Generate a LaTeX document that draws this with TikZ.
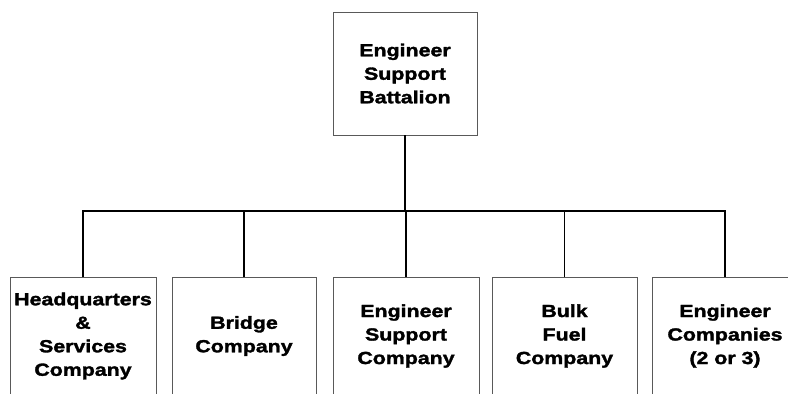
\documentclass[tikz,border=0pt]{standalone}
\usepackage{fontspec}
\setmainfont[FakeStretch=1.22, BoldFeatures={FakeBold=1.8}]{Liberation Sans}
\begin{document}
\begin{tikzpicture}[x=1pt,y=-1pt,
  unit/.style={draw=black!65, line width=0.9pt, align=center, inner sep=0pt,
    font={\fontsize{17.5}{23.5}\selectfont\bfseries}},
  link/.style={line width=2.4pt, black},
  thinlink/.style={line width=1.2pt, black}]
\useasboundingbox[fill=white] (0,0) rectangle (788,394);
\node[unit, minimum width=144pt, minimum height=123pt] (top) at (405,73.5) {Engineer\\Support\\Battalion};
\node[unit, minimum width=146pt, minimum height=118pt] (b1) at (83,336) {Headquarters\\\&\\Services\\Company};
\node[unit, minimum width=144pt, minimum height=118pt] (b2) at (244,336) {Bridge\\Company};
\node[unit, minimum width=146pt, minimum height=118pt] (b3) at (406,336) {Engineer\\Support\\Company};
\node[unit, minimum width=145pt, minimum height=118pt] (b4) at (564.5,336) {Bulk\\Fuel\\Company};
\node[unit, minimum width=146pt, minimum height=118pt] (b5) at (725,336) {Engineer\\Companies\\(2 or 3)};
\coordinate (bus) at (405,211);
\draw[link] (top.south) -- (bus);
\draw[link] (bus) -| (b1.north);
\draw[link] (bus) -| (b2.north);
\draw[link] (bus) -| (b3.north);
\draw[link] (bus) -| (b5.north);
\draw[thinlink] (bus -| b4.north) -- (b4.north);
\end{tikzpicture}
\end{document}
